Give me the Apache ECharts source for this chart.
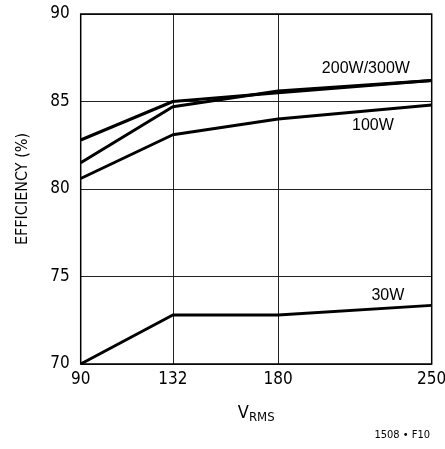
<!DOCTYPE html>
<html>
<head>
<meta charset="utf-8">
<script src="https://cdn.jsdelivr.net/npm/echarts@6/dist/echarts.min.js"></script>
<style>
html,body{margin:0;padding:0;background:#fff;}
#c{width:445px;height:449px;}
</style>
</head>
<body>
<div id="c"></div>
<script>
// Data
const voltages = [90, 132, 180, 250];
const xTicks = [90, 132, 180, 250];
const eff200W = [82.8, 85.0, 85.5, 86.2];
const eff300W = [81.5, 84.7, 85.6, 86.2];
const eff100W = [80.6, 83.1, 84.0, 84.8];
const eff30W = [70.0, 72.8, 72.8, 73.35];
const seriesNames = ['200W', '300W', '100W', '30W'];
const labelTexts = ['200W/300W', '100W', '30W'];

const NARROW = "'Liberation Sans Narrow', 'DejaVu Sans Condensed', sans-serif";
const REG = "'Liberation Sans', Arial, sans-serif";

function pairs(ys) { return voltages.map((v, i) => [v, ys[i]]); }

function lineSeries(name, ys, extra) {
  return Object.assign({
    name: name,
    type: 'line',
    data: pairs(ys),
    symbol: 'none',
    silent: true,
    lineStyle: { color: '#000', width: 3 },
    z: 5
  }, extra || {});
}

function annot(text, coord) {
  return {
    coord: coord,
    symbol: 'circle',
    symbolSize: 1,
    itemStyle: { color: 'rgba(0,0,0,0)' },
    label: {
      show: true, formatter: text, color: '#000',
      fontFamily: REG, fontSize: 16, position: 'inside'
    }
  };
}

const chart = echarts.init(document.getElementById('c'), null, { renderer: 'canvas' });
chart.setOption({
  animation: false,
  backgroundColor: '#fff',
  grid: {
    left: 80.7, right: 13.3, top: 14, bottom: 85,
    outerBoundsMode: 'none', containLabel: false,
    show: true, borderColor: '#000', borderWidth: 1.5, z: 10
  },
  xAxis: {
    type: 'value', min: 90, max: 250,
    axisLine: { show: false },
    axisTick: { show: false, customValues: xTicks },
    axisLabel: {
      customValues: xTicks, color: '#000', fontFamily: NARROW, fontSize: 17, margin: 7
    },
    splitLine: { show: true, lineStyle: { color: '#222', width: 1 } },
    name: '{v|V}{s|RMS}',
    nameLocation: 'middle',
    nameGap: 38,
    nameTextStyle: {
      rich: {
        v: { fontFamily: NARROW, fontSize: 18, color: '#000' },
        s: { fontFamily: NARROW, fontSize: 13, color: '#000', padding: [9, 0, 0, 0] }
      }
    }
  },
  yAxis: {
    type: 'value', min: 70, max: 90, interval: 5,
    axisLine: { show: false },
    axisTick: { show: false },
    axisLabel: { color: '#000', fontFamily: NARROW, fontSize: 17, margin: 11 },
    splitLine: { show: true, lineStyle: { color: '#222', width: 1 } },
    name: 'EFFICIENCY (%)',
    nameLocation: 'middle',
    nameGap: 50,
    nameTextStyle: { fontFamily: NARROW, fontSize: 16, color: '#000' }
  },
  graphic: [{
    type: 'text', right: 15, top: 430,
    style: { text: '1508 • F10', font: "11px " + NARROW, fill: '#000' }
  }],
  series: [
    lineSeries(seriesNames[0], eff200W, {
      markPoint: { silent: true, data: [annot(labelTexts[0], [220, 86.86])] }
    }),
    lineSeries(seriesNames[1], eff300W),
    lineSeries(seriesNames[2], eff100W, {
      markPoint: { silent: true, data: [annot(labelTexts[1], [223.2, 83.6])] }
    }),
    lineSeries(seriesNames[3], eff30W, {
      markPoint: { silent: true, data: [annot(labelTexts[2], [230, 73.9])] }
    })
  ]
});
</script>
</body>
</html>
